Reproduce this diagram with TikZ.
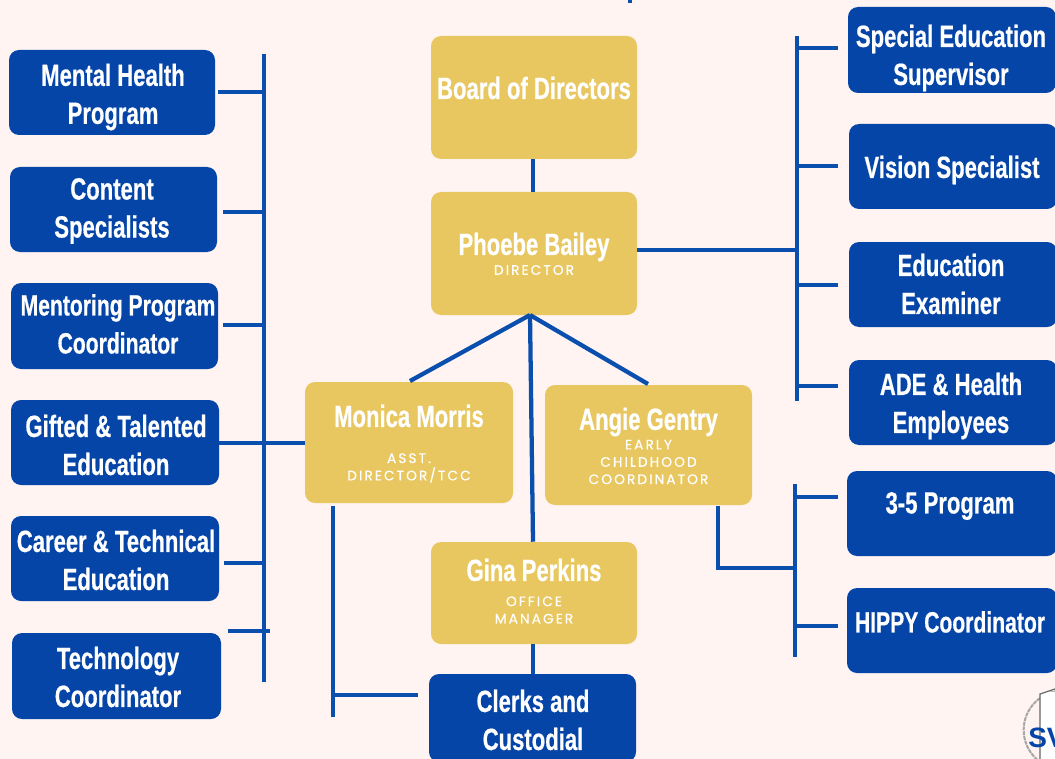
\documentclass[tikz,border=0pt]{standalone}
\usepackage{fontspec}
\setmainfont{Liberation Sans}
\newfontfamily\condfont[FakeStretch=0.72,FakeBold=0.5]{Liberation Sans Bold}
\newfontfamily\subfont[LetterSpace=15,FakeBold=0.4]{Poppins}
\definecolor{bgc}{HTML}{FFF4F2}
\definecolor{goldc}{HTML}{E9C760}
\definecolor{bluec}{HTML}{0645A8}
\definecolor{linec}{HTML}{0B4FAE}
\tikzset{
 size/.style 2 args={minimum width=#1*0.75pt,minimum height=#2*0.75pt},
 bluebox/.style={fill=bluec,rounded corners=7.5pt,inner sep=0pt},
 goldbox/.style={fill=goldc,rounded corners=7.5pt,inner sep=0pt},
 bluetext/.style={text=white,inner sep=0pt,align=center,font=\condfont\fontsize{23}{28.5}\selectfont},
 narrowtext/.style={text=white,inner sep=0pt,align=center,font=\condfont\fontsize{22}{28.5}\selectfont},
 nametext/.style={text=white,inner sep=0pt,font=\condfont\fontsize{23}{28}\selectfont},
 subtext/.style={text=white,inner sep=0pt,align=center,font=\subfont\fontsize{10.3}{13}\selectfont},
 conn/.style={draw=linec,line width=3.2pt},
}
\begin{document}
\begin{tikzpicture}[x=0.75pt,y=-0.75pt]
\useasboundingbox (0,0) rectangle (1055,759);
\fill[bgc] (0,0) rectangle (1055,759);
% connector anchors
\coordinate (leftTop) at (264,54);
\coordinate (leftBot) at (264,682);
\coordinate (rightTop) at (797,36);
\coordinate (rightBot) at (797,401);
\coordinate (rtwoTop) at (795,484);
\coordinate (rtwoBot) at (795,657);
\coordinate (hub) at (530,315);
\coordinate (mbarTop) at (333,506);
\coordinate (mbarBot) at (333,717);
\coordinate (elbow) at (718,568);
\coordinate (topdotA) at (630,-2);
\coordinate (topdotB) at (630,3);
% left column
\node[bluebox,size={206}{85}] (mh) at (112,92.5) {};
\node[bluetext] (mht) at (113,97) {Mental Health\\Program};
\node[bluebox,size={207}{85}] (cs) at (113.5,209.5) {};
\node[bluetext] (cst) at (112,211) {Content\\Specialists};
\node[bluebox,size={207}{86}] (mp) at (114.5,326) {};
\node[narrowtext] (mpt) at (118,324) {Mentoring Program\\Coordinator};
\node[bluebox,size={208}{85}] (gt) at (115,442.5) {};
\node[bluetext] (gtt) at (116,445) {Gifted \& Talented\\Education};
\node[bluebox,size={208}{85}] (ct) at (115,558.5) {};
\node[bluetext] (ctt) at (116,560) {Career \& Technical\\Education};
\node[bluebox,size={209}{86}] (tc) at (116.5,676) {};
\node[bluetext] (tct) at (118,677) {Technology\\Coordinator};
% centre column
\node[goldbox,size={206}{123}] (board) at (534,97.5) {};
\node[nametext] (boardt) at (534,88) {Board of Directors};
\node[goldbox,size={206}{123}] (pb) at (534,253.5) {};
\node[nametext] (pbt) at (534,247) {Phoebe Bailey};
\node[subtext] (pbs) at (534,270) {DIRECTOR};
\node[goldbox,size={208}{121}] (mm) at (409,442.5) {};
\node[nametext] (mmt) at (409,416) {Monica Morris};
\node[subtext] (mms) at (409,468) {ASST.\\DIRECTOR/TCC};
\node[goldbox,size={207}{120}] (ag) at (648.5,445) {};
\node[nametext] (agt) at (648.5,422) {Angie Gentry};
\node[subtext] (ags) at (648.5,462) {EARLY\\CHILDHOOD\\COORDINATOR};
\node[goldbox,size={206}{102}] (gp) at (534,593) {};
\node[nametext] (gpt) at (534,570) {Gina Perkins};
\node[subtext] (gps) at (534,610) {OFFICE\\MANAGER};
\node[bluebox,size={207}{88}] (cc) at (532.5,718) {};
\node[bluetext] (cct) at (533,720) {Clerks and\\Custodial};
% right column
\node[bluebox,size={208}{86}] (se) at (952,50) {};
\node[bluetext] (set) at (951,58) {Special Education\\Supervisor};
\node[bluebox,size={208}{85}] (vs) at (953,166.5) {};
\node[bluetext] (vst) at (952,170) {Vision Specialist};
\node[bluebox,size={208}{85}] (ee) at (953,284.5) {};
\node[bluetext] (eet) at (951,284) {Education\\Examiner};
\node[bluebox,size={208}{85}] (ad) at (953,402.5) {};
\node[bluetext] (adt) at (951,406) {ADE \& Health\\Employees};
\node[bluebox,size={210}{85}] (tf) at (952,513.5) {};
\node[bluetext] (tft) at (950,506) {3-5 Program};
\node[bluebox,size={210}{85}] (hc) at (952,630.5) {};
\node[narrowtext] (hct) at (950,622) {HIPPY Coordinator};
% connectors
\draw[conn] (leftTop) -- (leftBot);
\draw[conn] (rightTop) -- (rightBot);
\draw[conn] (rtwoTop) -- (rtwoBot);
\draw[conn] (mbarTop) -- (mbarBot);
\draw[conn] (218,92) -- (264,92);
\draw[conn] (223,212) -- (264,212);
\draw[conn] (223,325) -- (264,325);
\draw[conn] (gt.east |- 0,443) -- (mm.west |- 0,443);
\draw[conn] (224,563) -- (264,563);
\draw[conn] (228,631) -- (270,631);
\draw[conn] (board.south -| 533,0) -- (pb.north -| 533,0);
\draw[conn] (gp.south -| 533,0) -- (cc.north -| 533,0);
\draw[conn] (hub) -- (410,381);
\draw[conn] (hub) -- (648,384);
\draw[conn] (hub) -- (gp.north -| 533,0);
\draw[conn] (pb.east |- 0,250) -- (797,250);
\draw[conn] (797,48) -- (838,48);
\draw[conn] (797,166) -- (838,166);
\draw[conn] (797,285) -- (838,285);
\draw[conn] (797,386) -- (838,386);
\draw[conn] (795,497) -- (838,497);
\draw[conn] (795,626) -- (838,626);
\draw[conn] (718,506) -- (elbow) -- (795,568);
\draw[conn] (333,695) -- (418,695);
\draw[conn] (topdotA) -- (topdotB);
% seal
\coordinate (sealc) at (1063,730);
\draw[gray!70,line width=1.5pt,dash pattern=on 3pt off 0.6pt] (sealc) circle (29.5pt);
\fill[white] (1040,692) rectangle (1060,759);
\draw[gray!80!black,line width=0.9pt] (1058,688) -- (1040,694) -- (1040,759);
\node[text=bluec,inner sep=0pt,font=\bfseries\fontsize{21}{21}\selectfont,anchor=west] (sv) at (1028,738) {SV};
\end{tikzpicture}
\end{document}
